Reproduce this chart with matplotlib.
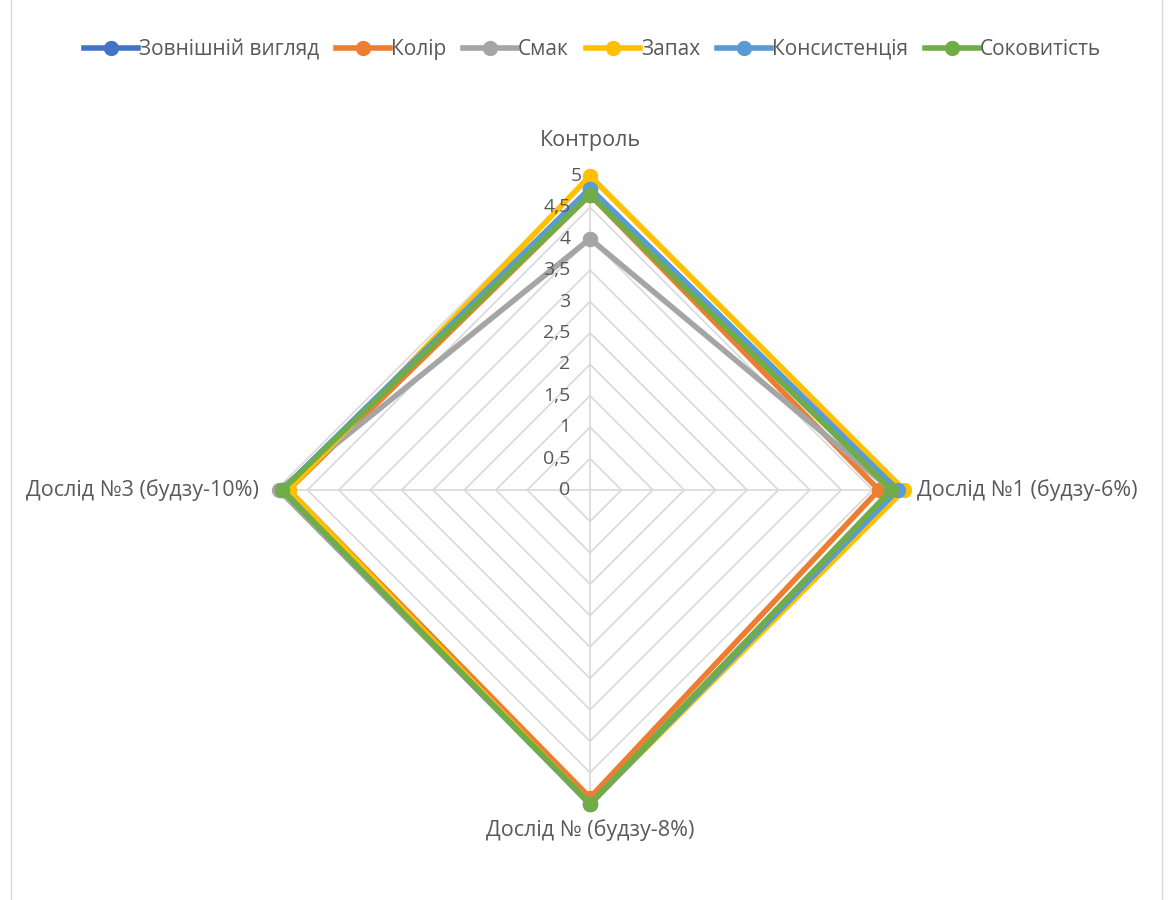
import numpy as np
import matplotlib.pyplot as plt
from matplotlib.transforms import offset_copy
from matplotlib.patches import Rectangle

plt.rcParams['font.family'] = ['Open Sans', 'DejaVu Sans']

categories = ['Контроль', 'Дослід №1 (будзу-6%)', 'Дослід № (будзу-8%)', 'Дослід №3 (будзу-10%)']
series_names = ['Зовнішній вигляд', 'Колір', 'Смак', 'Запах', 'Консистенція', 'Соковитість']
zovnishnii = [4.8, 4.9, 5.0, 4.9]
kolir = [4.7, 4.6, 4.9, 4.8]
smak = [4.0, 4.8, 5.0, 4.95]
zapakh = [5.0, 5.0, 5.0, 4.8]
konsystentsiia = [4.8, 4.9, 5.0, 4.9]
sokovytist = [4.7, 4.8, 5.0, 4.9]
series_values = [zovnishnii, kolir, smak, zapakh, konsystentsiia, sokovytist]
colors = ['#4472C4', '#ED7D31', '#A5A5A5', '#FFC000', '#5B9BD5', '#70AD47']
r_ticks = [0, 0.5, 1, 1.5, 2, 2.5, 3, 3.5, 4, 4.5, 5]

text_color = '#595959'
grid_color = '#D9D9D9'

fig = plt.figure(figsize=(11.73, 9), dpi=100)
fig.patch.set_facecolor('white')
fig.add_artist(Rectangle((0.009, -0.01), 0.982, 1.02, transform=fig.transFigure,
                         fill=False, edgecolor='#D9D9D9', linewidth=1))

ax = fig.add_axes([0.2353, 0.1067, 0.5354, 0.6978], projection='polar')
ax.set_theta_offset(np.pi / 2)
ax.set_theta_direction(-1)
ax.set_ylim(0, 5)
ax.grid(False)
ax.spines['polar'].set_visible(False)
ax.set_xticks([])
ax.set_yticks([])
ax.patch.set_alpha(0)

theta = np.linspace(0, 2 * np.pi, len(categories), endpoint=False)
theta_closed = np.append(theta, theta[0])

# straight polygon gridlines, one per step
for r in r_ticks[1:]:
    ax.plot(theta_closed, [r] * len(theta_closed), color=grid_color, lw=1.2, zorder=1)
for t in theta:
    ax.plot([t, t], [0, 5], color=grid_color, lw=1.2, zorder=1)

# radial tick labels left of the top axis, drawn over the series
lab_tr = offset_copy(ax.transData, fig=fig, x=-14, y=0, units='points')
top_tr = offset_copy(ax.transData, fig=fig, x=-6, y=0, units='points')
for r in r_ticks:
    ax.text(0, r, f'{r:g}'.replace('.', ','), transform=top_tr if r == 5 else lab_tr,
            ha='right', va='center', fontsize=14, color=text_color, zorder=5)

for name, vals, c in zip(series_names, series_values, colors):
    v = np.append(vals, vals[0])
    ax.plot(theta_closed, v, color=c, lw=4, marker='o', markersize=10,
            label=name, zorder=3, clip_on=False)

# category labels
lab_size = 15.5
ax.text(0, 5, categories[0], transform=offset_copy(ax.transData, fig=fig, x=0, y=18, units='points'),
        ha='center', va='bottom', fontsize=lab_size, color=text_color)
ax.text(theta[1], 5, categories[1], transform=offset_copy(ax.transData, fig=fig, x=9, y=0, units='points'),
        ha='left', va='center', fontsize=lab_size, color=text_color)
ax.text(theta[2], 5, categories[2], transform=offset_copy(ax.transData, fig=fig, x=0, y=-11, units='points'),
        ha='center', va='top', fontsize=lab_size, color=text_color)
ax.text(theta[3], 5, categories[3], transform=offset_copy(ax.transData, fig=fig, x=-12, y=0, units='points'),
        ha='right', va='center', fontsize=lab_size, color=text_color)

leg = fig.legend(loc='center', bbox_to_anchor=(0.505, 0.945), ncol=6, frameon=False,
                 fontsize=15, handlelength=2.6, handletextpad=0.05, columnspacing=0.8,
                 markerscale=1.0)
for t in leg.get_texts():
    t.set_color(text_color)

fig.savefig('out.png', dpi=100)
